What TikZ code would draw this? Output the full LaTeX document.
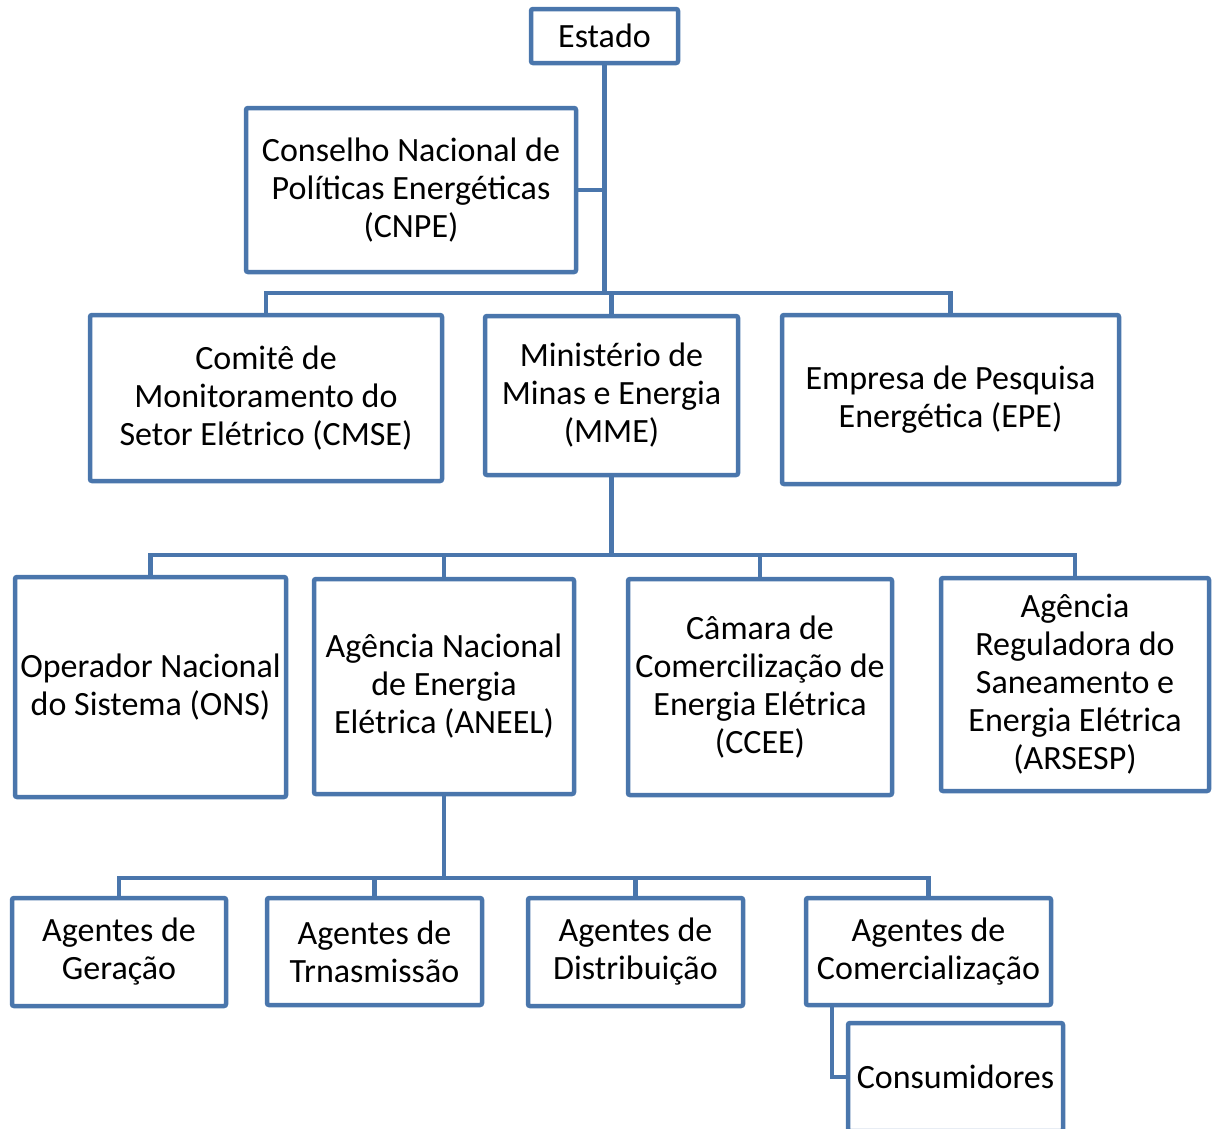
\documentclass[tikz,border=0pt]{standalone}
\usepackage{fontspec}
\setmainfont{Carlito}
\definecolor{bl}{HTML}{4A76AC}
\begin{document}
\begin{tikzpicture}[x=1pt,y=-1pt,
  box/.style={draw=bl, line width=4.5pt, rounded corners=2pt, align=center, inner sep=0pt, outer sep=0pt, fill=white,
    font=\fontsize{34}{38}\selectfont},
  conn/.style={draw=bl, line width=4.5pt, line cap=rect}]
\useasboundingbox (0,0) rectangle (1213,1128);
\node[box, minimum width=147pt, minimum height=54pt] (estado) at (604.5,36) {Estado};
\node[box, minimum width=330pt, minimum height=164pt] (cnpe) at (411,190) {Conselho Nacional de\\Políticas Energéticas\\(CNPE)};
\node[box, minimum width=352pt, minimum height=166pt] (cmse) at (266,398) {Comitê de\\Monitoramento do\\Setor Elétrico (CMSE)};
\node[box, minimum width=253pt, minimum height=159pt] (mme) at (611.5,395.5) {Ministério de\\Minas e Energia\\(MME)};
\node[box, minimum width=337pt, minimum height=169pt] (epe) at (950.5,399.5) {Empresa de Pesquisa\\Energética (EPE)};
\node[box, minimum width=271pt, minimum height=220pt] (ons) at (150.5,687) {Operador Nacional\\do Sistema (ONS)};
\node[box, minimum width=260pt, minimum height=215pt] (aneel) at (444,686.5) {Agência Nacional\\de Energia\\Elétrica (ANEEL)};
\node[box, minimum width=264pt, minimum height=216pt] (ccee) at (760,687) {Câmara de\\Comercilização de\\Energia Elétrica\\(CCEE)};
\node[box, minimum width=268pt, minimum height=213pt] (arsesp) at (1075,684.5) {Agência\\Reguladora do\\Saneamento e\\Energia Elétrica\\(ARSESP)};
\node[box, minimum width=214pt, minimum height=108pt] (ger) at (119,952) {Agentes de\\Geração};
\node[box, minimum width=215pt, minimum height=107pt] (tra) at (374.5,951.5) {Agentes de\\Trnasmissão};
\node[box, minimum width=215pt, minimum height=108pt] (dis) at (635.5,952) {Agentes de\\Distribuição};
\node[box, minimum width=245pt, minimum height=107pt] (com) at (928.5,951.5) {Agentes de\\Comercialização};
\node[box, minimum width=215pt, minimum height=108pt] (cons) at (955.5,1077) {Consumidores};
\coordinate (b1) at (0,293);
\coordinate (b2) at (0,555);
\coordinate (b3) at (0,878);
\draw[conn] (estado.south) -- (estado.south |- b1);
\draw[conn] (cnpe.east) -- (cnpe.east -| estado.south);
\draw[conn] (cmse.north) -- (cmse.north |- b1) -- (epe.north |- b1) -- (epe.north);
\draw[conn] (mme.north) -- (mme.north |- b1);
\draw[conn] (mme.south) -- (mme.south |- b2);
\draw[conn] (ons.north) -- (ons.north |- b2) -- (arsesp.north |- b2) -- (arsesp.north);
\draw[conn] (aneel.north) -- (aneel.north |- b2);
\draw[conn] (ccee.north) -- (ccee.north |- b2);
\draw[conn] (aneel.south) -- (aneel.south |- b3);
\draw[conn] (ger.north) -- (ger.north |- b3) -- (com.north |- b3) -- (com.north);
\draw[conn] (tra.north) -- (tra.north |- b3);
\draw[conn] (dis.north) -- (dis.north |- b3);
\draw[conn] (com.south west) ++(26,0) |- (cons.west);
\end{tikzpicture}
\end{document}
